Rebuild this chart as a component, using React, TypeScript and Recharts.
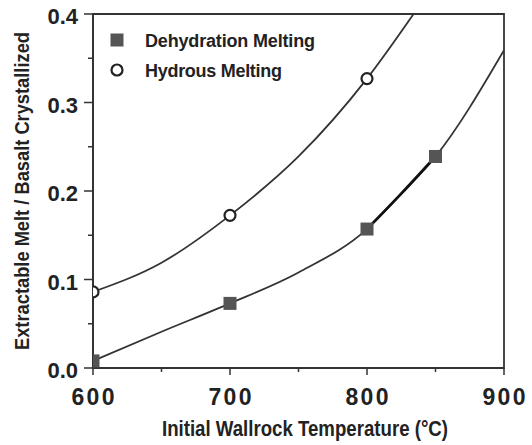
import { ComposedChart, Line, Scatter, XAxis, YAxis, ReferenceArea } from 'recharts'

const xTicks = [600, 650, 700, 750, 800, 850, 900]
const yTicks = [0, 0.05, 0.1, 0.15, 0.2, 0.25, 0.3, 0.35, 0.4]

// measured points
const dehydTemp = [600, 700, 800, 850]
const dehydMelt = [0.008, 0.073, 0.157, 0.239]
const hydTemp = [600, 700, 800]
const hydMelt = [0.086, 0.1725, 0.327]

// fitted curves
const dehydCurveTemp = [600, 650, 700, 750, 800, 825, 850, 900]
const dehydCurveMelt = [0.008, 0.041, 0.073, 0.108, 0.157, 0.197, 0.239, 0.359]
const hydCurveTemp = [600, 650, 700, 750, 800, 834]
const hydCurveMelt = [0.086, 0.119, 0.1725, 0.239, 0.327, 0.4]
// darker stretch of the dehydration curve
const boldTemp = [800, 825, 850]
const boldMelt = [0.157, 0.197, 0.239]

const zip = (t: number[], m: number[]) => t.map((v, i) => ({ t: v, m: m[i] }))

const FONT = '"Liberation Sans", Arial, sans-serif'
const INK = '#222'

const XTick = (p: any) => {
  const v = p.payload.value
  const major = v % 100 === 0
  return (
    <g>
      <line x1={p.x} y1={p.y} x2={p.x} y2={p.y + (major ? 7 : 4)} stroke="#333" strokeWidth={1.5} />
      {major && (
        <text x={p.x} y={p.y + 37} textAnchor="middle" fontSize={23} fontWeight="bold" fill={INK} fontFamily={FONT} textLength={43}>
          {v}
        </text>
      )}
    </g>
  )
}

const YTick = (p: any) => {
  const v = p.payload.value
  const major = Math.round(v * 100) % 10 === 0
  return (
    <g>
      <line x1={p.x} y1={p.y} x2={p.x - (major ? 9 : 5)} y2={p.y} stroke="#333" strokeWidth={1.5} />
      {major && (
        <text x={p.x - 15} y={p.y + 10} textAnchor="end" fontSize={22} fontWeight="bold" fill={INK} fontFamily={FONT}>
          {v.toFixed(1)}
        </text>
      )}
    </g>
  )
}

const Square = (p: any) => <rect x={p.cx - 6.5} y={p.cy - 6.5} width={13} height={13} fill="#555" />
const Ring = (p: any) => <circle cx={p.cx} cy={p.cy} r={5.5} fill="#fff" stroke="#222" strokeWidth={2.2} />

export default function App() {
  return (
    <div style={{ position: 'absolute', left: 0, top: 0, width: 532, height: 445, background: '#fff' }}>
      <ComposedChart width={532} height={445} margin={{ top: 14, right: 28, bottom: 0, left: 0 }}>
        <XAxis
          dataKey="t"
          type="number"
          domain={[600, 900]}
          ticks={xTicks}
          tick={XTick}
          tickSize={0}
          tickMargin={0}
          height={77}
          axisLine={{ stroke: '#333', strokeWidth: 2 }}
          allowDataOverflow
        />
        <YAxis
          dataKey="m"
          type="number"
          domain={[0, 0.4]}
          ticks={yTicks}
          tick={YTick}
          tickSize={0}
          tickMargin={0}
          width={93}
          axisLine={{ stroke: '#333', strokeWidth: 2 }}
          allowDataOverflow
        />
        <ReferenceArea x1={600} x2={900} y1={0} y2={0.4} fill="none" stroke="#333" strokeWidth={1.8} />
        <Line data={zip(hydCurveTemp, hydCurveMelt)} dataKey="m" type="monotone" stroke="#333" strokeWidth={1.8} dot={false} isAnimationActive={false} />
        <Line data={zip(dehydCurveTemp, dehydCurveMelt)} dataKey="m" type="monotone" stroke="#333" strokeWidth={1.8} dot={false} isAnimationActive={false} />
        <Line data={zip(boldTemp, boldMelt)} dataKey="m" type="monotone" stroke="#111" strokeWidth={2.8} dot={false} isAnimationActive={false} />
        <Scatter data={zip(hydTemp, hydMelt)} shape={Ring} isAnimationActive={false} />
        <Scatter data={zip(dehydTemp, dehydMelt)} shape={Square} isAnimationActive={false} />
      </ComposedChart>
      <svg width={532} height={445} style={{ position: 'absolute', left: 0, top: 0, pointerEvents: 'none' }} fontFamily={FONT} fill={INK}>
        <rect x={110.5} y={33.5} width={13} height={13} fill="#555" />
        <text x={145} y={47} fontSize={18} fontWeight="bold" textLength={170}>Dehydration Melting</text>
        <circle cx={117} cy={70} r={5.5} fill="#fff" stroke="#222" strokeWidth={2.2} />
        <text x={145} y={77} fontSize={18} fontWeight="bold" textLength={137}>Hydrous Melting</text>
        <text x={162} y={436} fontSize={22} fontWeight="bold" textLength={286} lengthAdjust="spacingAndGlyphs">
          Initial Wallrock Temperature (°C)
        </text>
        <text x={29} y={191} transform="rotate(-90 29 191)" textAnchor="middle" fontSize={20} fontWeight="bold" textLength={318} lengthAdjust="spacingAndGlyphs">
          Extractable Melt / Basalt Crystallized
        </text>
      </svg>
    </div>
  )
}
